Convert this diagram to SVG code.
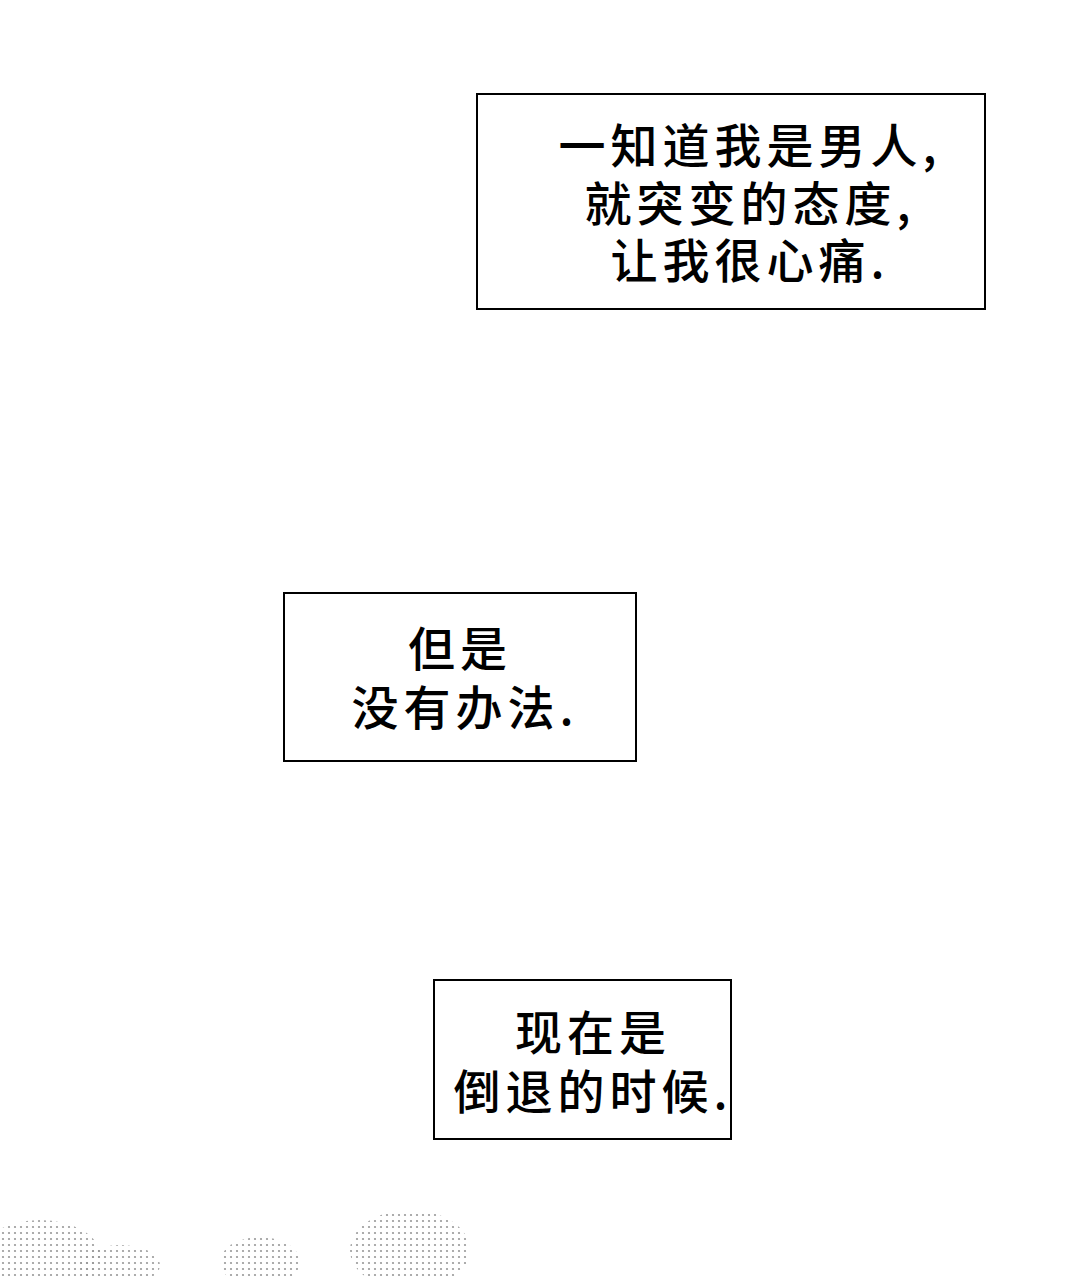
<svg xmlns="http://www.w3.org/2000/svg" width="1080" height="1280" viewBox="0 0 1080 1280">
<style>
.box{fill:#fff;stroke:#000;stroke-width:2}
.t{font-family:"Noto Sans CJK SC","Noto Sans",sans-serif;font-size:47px;letter-spacing:5px;font-weight:500;fill:#000;text-anchor:middle}
</style>
<defs>
<pattern id="dots" width="6" height="6" patternUnits="userSpaceOnUse"><circle cx="3" cy="3" r="1.1" fill="#555"/></pattern>
</defs>
<rect width="1080" height="1280" fill="#fff"/>
<g id="texture" opacity="0.6">
<ellipse cx="40" cy="1255" rx="60" ry="35" fill="url(#dots)"/>
<ellipse cx="120" cy="1265" rx="40" ry="20" fill="url(#dots)"/>
<ellipse cx="260" cy="1262" rx="40" ry="25" fill="url(#dots)"/>
<ellipse cx="410" cy="1250" rx="60" ry="40" fill="url(#dots)"/>
</g>
<g id="box1">
<rect class="box" x="477" y="94" width="508" height="215"/>
<text class="t" x="750" y="163">一知道我是男人,</text>
<text class="t" x="750" y="221">就突变的态度,</text>
<text class="t" x="750" y="278">让我很心痛.</text>
</g>
<g id="box2">
<rect class="box" x="284" y="593" width="352" height="168"/>
<text class="t" x="460" y="666">但是</text>
<text class="t" x="465" y="725">没有办法.</text>
</g>
<g id="box3">
<rect class="box" x="434" y="980" width="297" height="159"/>
<text class="t" x="593" y="1050">现在是</text>
<text class="t" x="593" y="1109">倒退的时候.</text>
</g>
</svg>
